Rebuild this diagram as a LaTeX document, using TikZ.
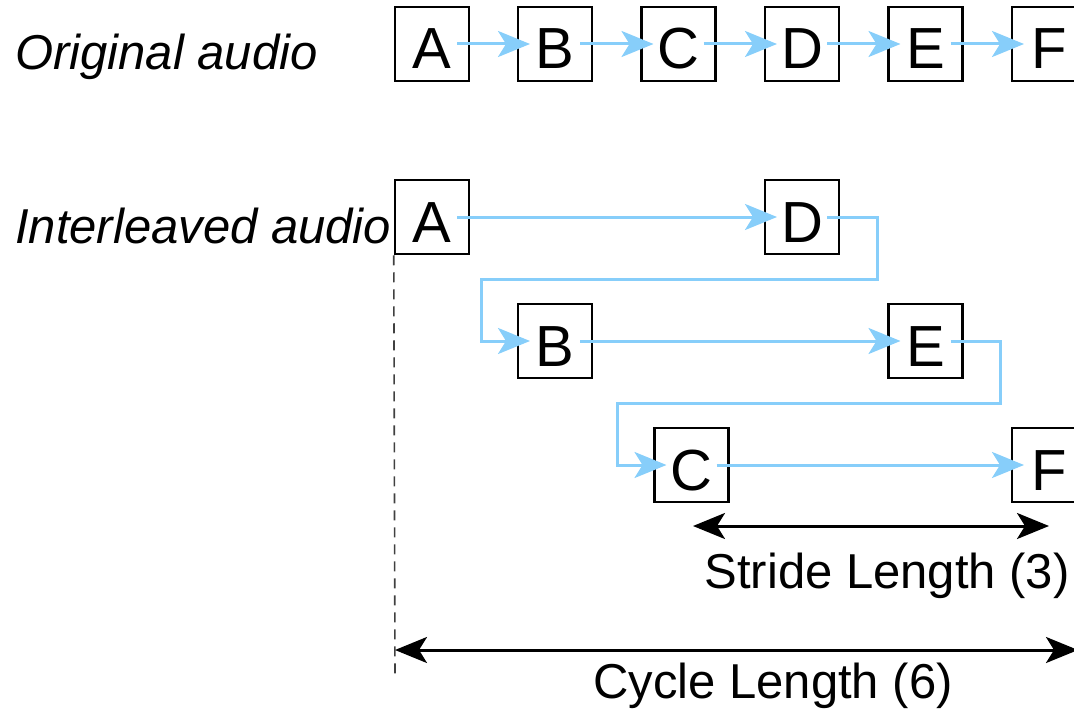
\documentclass[tikz,border=0pt]{standalone}
\usepackage{fontspec}
\setmainfont{Liberation Sans}
\usetikzlibrary{arrows.meta}
\definecolor{flowblue}{RGB}{135,206,250}
\begin{document}
\begin{tikzpicture}[x=1pt,y=-1pt,
  box/.style={draw=black,line width=2.5pt,minimum size=74pt,inner sep=0pt,
    font=\fontsize{58}{60}\selectfont,text height=50pt,text depth=0pt},
  flow/.style={draw=flowblue,line width=3pt,-{Stealth[length=32pt,width=26pt,inset=8pt]}},
  measure/.style={draw=black,line width=3pt,{Stealth[length=32pt,width=26pt,inset=8pt]}-{Stealth[length=32pt,width=26pt,inset=8pt]}},
  lbl/.style={font=\fontsize{49}{52}\selectfont,inner sep=0pt},
  side/.style={lbl,font=\fontsize{49}{52}\selectfont\itshape,anchor=base west}]
\useasboundingbox (0,0) rectangle (1074,709);
% top row
\node[box] (oA) at (432,44) {A};
\node[box] (oB) at (555,44) {B};
\node[box] (oC) at (678.5,44) {C};
\node[box] (oD) at (802,44) {D};
\node[box] (oE) at (925.5,44) {E};
\node[box] (oF) at (1049,44) {F};
\node[side] (lo) at (15,70) {Original audio};
% interleaved
\node[box] (iA) at (432,217) {A};
\node[box] (iD) at (802,217) {D};
\node[box] (iB) at (555,341) {B};
\node[box] (iE) at (925.5,341) {E};
\node[box] (iC) at (691.5,465) {C};
\node[box] (iF) at (1049,465) {F};
\node[side] (li) at (15,243) {Interleaved audio};
% top arrows
\foreach \a/\b in {oA/oB,oB/oC,oC/oD,oD/oE,oE/oF}
  \draw[flow] ([xshift=25pt]\a.center) -- ([xshift=-25pt]\b.center);
% interleaved arrows
\draw[flow] ([xshift=25pt]iA.center) -- ([xshift=-25pt]iD.center);
\draw[flow] ([xshift=25pt]iD.center) -- (877,217) -- (877,279) -- (481,279) -- (481,341) -- ([xshift=-25pt]iB.center);
\draw[flow] ([xshift=25pt]iB.center) -- ([xshift=-25pt]iE.center);
\draw[flow] ([xshift=25pt]iE.center) -- (1000,341) -- (1000,403) -- (617,403) -- (617,465) -- ([xshift=-25pt]iC.center);
\draw[flow] ([xshift=25pt]iC.center) -- ([xshift=-25pt]iF.center);
% dashed guide
\coordinate (dEnd) at (395,675);
\draw[black!75,line width=1.6pt,dash pattern=on 10pt off 7pt] (iA.south west) -- (dEnd);
% stride
\coordinate (sL) at (693,526);
\coordinate (sR) at (1049,526);
\draw[measure] (sL) -- (sR);
\node[lbl,anchor=base] (st) at (887,588) {Stride Length (3)};
% cycle
\coordinate (cL) at (395,650);
\coordinate (cR) at (1078,650);
\draw[measure] (cL) -- (cR);
\node[lbl,anchor=base] (cy) at (773,698) {Cycle Length (6)};
\end{tikzpicture}
\end{document}
